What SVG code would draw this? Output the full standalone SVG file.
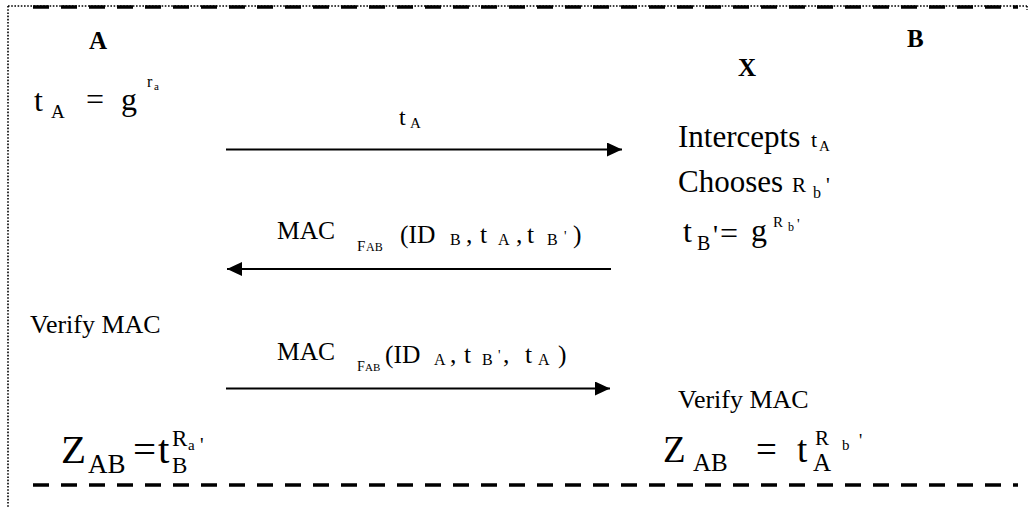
<svg xmlns="http://www.w3.org/2000/svg" width="1029" height="508" viewBox="0 0 1029 508">
  <style>
    text { font-family: "Liberation Serif", "Times New Roman", serif; fill: #000; }
    .bold { font-weight: bold; font-size: 25px; }
    .dots { stroke: #000; stroke-width: 1.6; stroke-dasharray: 1.6 1.6; fill: none; }
    .dash { stroke: #000; stroke-width: 3.4; stroke-dasharray: 16 12; fill: none; }
    .msg { stroke: #000; stroke-width: 2; fill: none; }
  </style>
  <defs>
    <marker id="head" markerUnits="userSpaceOnUse" markerWidth="16" markerHeight="15" refX="15" refY="7" orient="auto">
      <path d="M0,0 L15,7 L0,14 Z" fill="#000"/>
    </marker>
  </defs>
  <rect width="1029" height="508" fill="#fff"/>

  <!-- frame: dotted border with dashed rules on top and bottom -->
  <g id="frame">
    <line class="dots" x1="8" y1="6" x2="1027" y2="6"/>
    <line class="dots" x1="8" y1="6" x2="8" y2="508"/>
    <line class="dots" x1="1027" y1="6" x2="1027" y2="10"/>
    <line class="dash" x1="33" y1="7" x2="1018" y2="7"/>
    <line class="dash" x1="33" y1="485" x2="1018" y2="485"/>
  </g>

  <!-- parties -->
  <g id="party-a"><text class="bold" x="89" y="49">A</text></g>
  <g id="party-b"><text class="bold" x="907" y="47">B</text></g>
  <g id="party-x"><text class="bold" x="738" y="76">X</text></g>

  <!-- A computes its public value -->
  <g id="a-key">
    <text font-size="32"><tspan x="34" y="111">t</tspan><tspan x="51" y="118" font-size="19">A</tspan><tspan x="86" y="110">=</tspan><tspan x="121" y="110">g</tspan><tspan x="147" y="87" font-size="16">r</tspan><tspan x="154" y="90" font-size="11">a</tspan></text>
  </g>

  <!-- X intercepts and substitutes its own value -->
  <g id="x-steps">
    <text font-size="31"><tspan x="678" y="147">Intercepts</tspan><tspan x="811" y="147" font-size="22">t</tspan><tspan x="819" y="151" font-size="15">A</tspan></text>
    <text font-size="31"><tspan x="678" y="192">Chooses</tspan><tspan x="792" y="192" font-size="21">R</tspan><tspan x="813" y="198" font-size="16">b</tspan><tspan x="826" y="192" font-size="21">'</tspan></text>
    <text font-size="32"><tspan x="683" y="242">t</tspan><tspan x="697" y="250" font-size="20">B</tspan><tspan x="713" y="244" font-size="28">'</tspan><tspan x="720" y="244">=</tspan><tspan x="751" y="241">g</tspan><tspan x="773" y="227" font-size="15">R</tspan><tspan x="788" y="231" font-size="12">b</tspan><tspan x="797" y="229" font-size="15">'</tspan></text>
  </g>

  <!-- message labels -->
  <g id="label-ta">
    <text font-size="24"><tspan x="399" y="125">t</tspan><tspan x="410" y="128" font-size="15">A</tspan></text>
  </g>
  <g id="label-mac-b">
    <text font-size="25.5"><tspan x="277" y="239">MAC</tspan><tspan x="357" y="251" font-size="15">F</tspan><tspan x="366" y="251" font-size="12">AB</tspan><tspan x="400" y="243">(ID</tspan><tspan x="450" y="245" font-size="16">B</tspan><tspan x="466" y="243">,</tspan><tspan x="480" y="243">t</tspan><tspan x="498" y="245" font-size="16">A</tspan><tspan x="516" y="243">,</tspan><tspan x="527" y="243">t</tspan><tspan x="547" y="245" font-size="16">B</tspan><tspan x="564" y="241" font-size="14">'</tspan><tspan x="573" y="243">)</tspan></text>
  </g>
  <g id="label-mac-a">
    <text font-size="25.5"><tspan x="277" y="360">MAC</tspan><tspan x="357" y="371" font-size="14">F</tspan><tspan x="365" y="371" font-size="11">AB</tspan><tspan x="385" y="363">(ID</tspan><tspan x="434" y="365" font-size="16">A</tspan><tspan x="450" y="363">,</tspan><tspan x="464" y="363">t</tspan><tspan x="482" y="365" font-size="16">B</tspan><tspan x="498" y="360" font-size="14">'</tspan><tspan x="503" y="363">,</tspan><tspan x="525" y="363">t</tspan><tspan x="538" y="365" font-size="16">A</tspan><tspan x="558" y="363">)</tspan></text>
  </g>

  <!-- verification and shared keys -->
  <g id="a-verify"><text font-size="26" x="30" y="333">Verify MAC</text></g>
  <g id="b-verify"><text font-size="26" x="678" y="408">Verify MAC</text></g>
  <g id="a-session">
    <text font-size="41"><tspan x="61" y="463">Z</tspan><tspan x="88" y="473" font-size="27">AB</tspan><tspan x="133" y="463">=</tspan><tspan x="158" y="463">t</tspan><tspan x="172" y="473" font-size="23">B</tspan><tspan x="172" y="446" font-size="23">R</tspan><tspan x="188" y="450" font-size="15">a</tspan><tspan x="200" y="452" font-size="20">'</tspan></text>
  </g>
  <g id="x-session">
    <text font-size="37"><tspan x="663" y="462">Z</tspan><tspan x="693" y="471" font-size="25">AB</tspan><tspan x="756" y="462">=</tspan><tspan x="797" y="462">t</tspan><tspan x="813" y="471" font-size="25">A</tspan><tspan x="815" y="445" font-size="21">R</tspan><tspan x="842" y="450" font-size="15">b</tspan><tspan x="859" y="447" font-size="18">'</tspan></text>
  </g>

  <!-- connectors -->
  <g id="connectors">
    <line class="msg" x1="226" y1="149.5" x2="622" y2="149.5" marker-end="url(#head)"/>
    <line class="msg" x1="611" y1="269" x2="227" y2="269" marker-end="url(#head)"/>
    <line class="msg" x1="226" y1="388.5" x2="610" y2="388.5" marker-end="url(#head)"/>
  </g>
</svg>
